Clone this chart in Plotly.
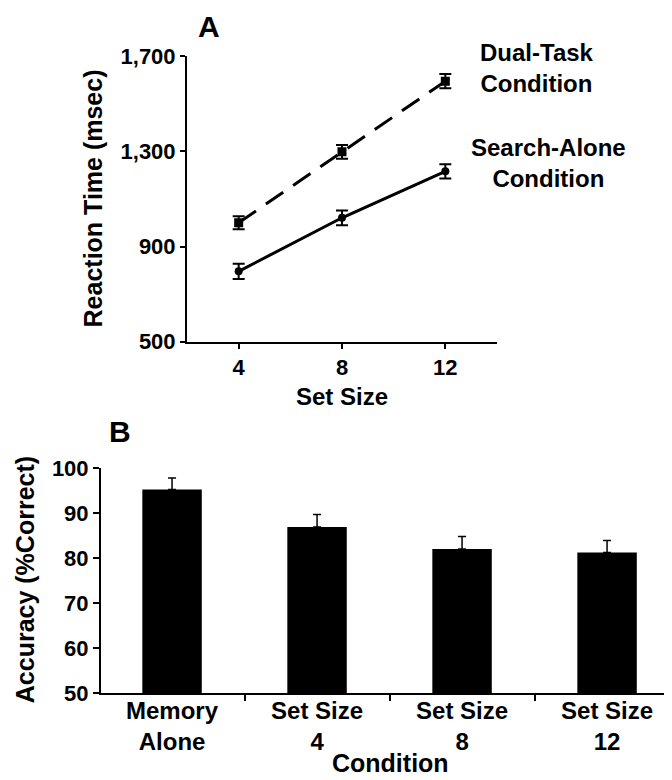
import plotly.graph_objects as go

# ---- Panel A data ----
set_sizes = [4, 8, 12]
dual_task_rt = [1000, 1298, 1595]
dual_task_err = [27, 29, 30]
search_alone_rt = [796, 1021, 1216]
search_alone_err = [32, 31, 30]
rt_ticks = [500, 900, 1300, 1700]
rt_ticklabels = ["500", "900", "1,300", "1,700"]

# ---- Panel B data ----
conditions = ["Memory<br>Alone", "Set Size<br>4", "Set Size<br>8", "Set Size<br>12"]
accuracy = [95.2, 86.9, 82.0, 81.2]
accuracy_err = [2.6, 2.75, 2.75, 2.7]
acc_ticks = [50, 60, 70, 80, 90, 100]

FONT = "Liberation Sans, Arial, Helvetica, sans-serif"
W, H = 672, 780
XOFF = 8
YOFF, YSC = 20.9, 0.966


def px(xp):
    return (xp - XOFF) / W


def py(yp):
    return 1 - ((yp - YOFF) / YSC) / H


fig = go.Figure()

# Panel A lines
fig.add_trace(go.Scatter(
    x=set_sizes, y=dual_task_rt, mode="lines+markers",
    line=dict(color="black", width=3, dash="21px,12px"),
    marker=dict(symbol="square", size=9, color="black"),
    error_y=dict(type="data", array=dual_task_err, color="black", thickness=2, width=6),
    xaxis="x", yaxis="y", showlegend=False,
))
fig.add_trace(go.Scatter(
    x=set_sizes, y=search_alone_rt, mode="lines+markers",
    line=dict(color="black", width=3),
    marker=dict(symbol="circle", size=8, color="black"),
    error_y=dict(type="data", array=search_alone_err, color="black", thickness=2, width=6),
    xaxis="x", yaxis="y", showlegend=False,
))

# Panel B bars
cat_idx = list(range(len(conditions)))
fig.add_trace(go.Bar(
    x=cat_idx, y=accuracy, width=0.41, marker=dict(color="black", line=dict(width=0)),
    error_y=dict(type="data", symmetric=False, array=accuracy_err,
                 arrayminus=[0] * len(accuracy_err), color="black", thickness=1.5, width=4),
    xaxis="x2", yaxis="y2", showlegend=False,
))

tickfont = dict(family=FONT, size=22, color="black", weight="bold")

fig.update_layout(
    width=W, height=H,
    margin=dict(l=0, r=0, t=0, b=0),
    paper_bgcolor="white", plot_bgcolor="white",
    font=dict(family=FONT, color="black"),
    xaxis=dict(
        domain=[px(187), px(497)], range=[2, 14], anchor="y",
        tickvals=set_sizes, ticktext=[str(s) for s in set_sizes],
        showline=True, linecolor="black", linewidth=2,
        ticks="outside", ticklen=5, tickwidth=2, tickcolor="black",
        showgrid=False, zeroline=False, tickfont=tickfont,
    ),
    yaxis=dict(
        domain=[py(342), py(57)], range=[500, 1700], anchor="x",
        tickvals=rt_ticks, ticktext=rt_ticklabels,
        showline=True, linecolor="black", linewidth=2,
        ticks="outside", ticklen=5, tickwidth=2, tickcolor="black",
        showgrid=False, zeroline=False, tickfont=tickfont,
    ),
    xaxis2=dict(
        domain=[px(101), 1.0], range=[-0.49, 3.503], anchor="y2",
        tickvals=cat_idx, ticktext=conditions, ticks="",
        ticklabelstandoff=-5,
        minor=dict(tickmode="array", tickvals=[0.5, 1.5, 2.5], ticks="outside",
                   ticklen=6, tickwidth=2, tickcolor="black", showgrid=False),
        showline=True, linecolor="black", linewidth=2,
        showgrid=False, zeroline=False,
        tickfont=dict(family=FONT, size=24, color="black", weight="bold"),
    ),
    yaxis2=dict(
        domain=[py(692.5), py(468)], range=[50, 100], anchor="x2",
        tickvals=acc_ticks,
        showline=True, linecolor="black", linewidth=2,
        ticks="outside", ticklen=6, tickwidth=2, tickcolor="black",
        showgrid=False, zeroline=False, tickfont=tickfont,
    ),
)


def ann(text, x, y, size, angle=0):
    fig.add_annotation(text=text, x=x, y=y, xref="paper", yref="paper",
                       xanchor="center", yanchor="middle", showarrow=False,
                       textangle=angle,
                       font=dict(family=FONT, size=size, color="black", weight="bold"))


ann("A", px(209), py(27), 30)
ann("B", px(119.5), py(432), 30)
ann("Reaction Time (msec)", px(92.5), py(199.5), 25, -90)
ann("Set Size", px(342), py(397), 24)
ann("Accuracy (%Correct)", px(25), py(580), 25, -90)
ann("Condition", px(390), py(762), 25)
ann("Dual-Task<br>Condition", px(537), py(68.5), 24)
ann("Search-Alone<br>Condition", px(548), py(164), 24)

fig.write_html("out.html")
